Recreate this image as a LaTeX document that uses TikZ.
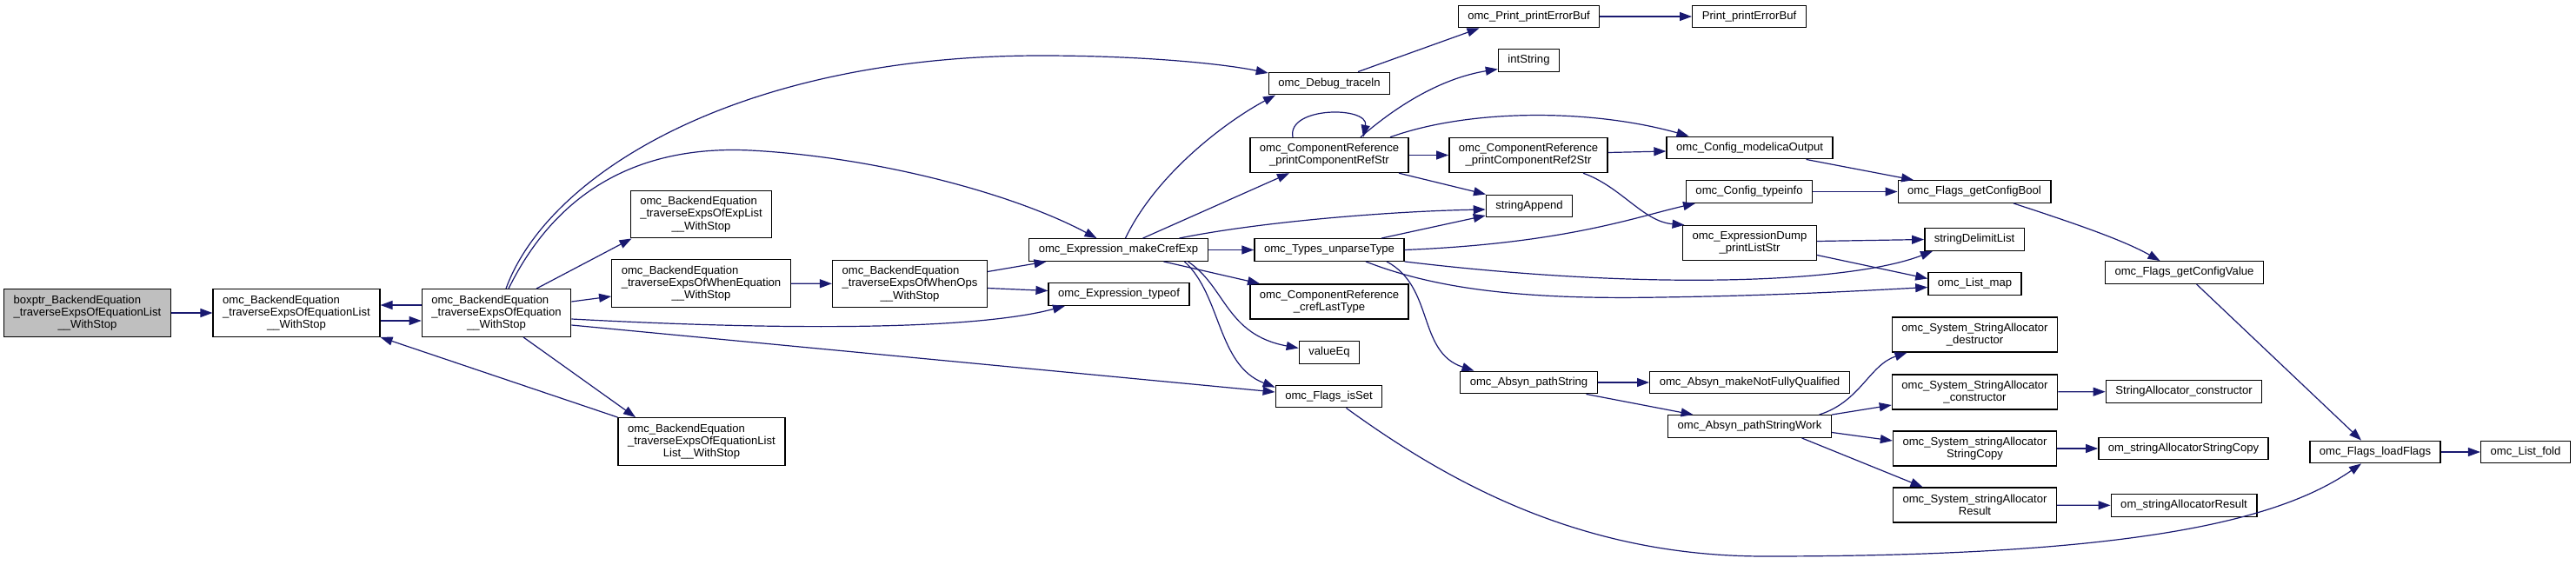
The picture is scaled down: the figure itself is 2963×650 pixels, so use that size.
\documentclass[tikz,border=0pt]{standalone}
\usepackage{fontspec}
\setmainfont{Liberation Sans}
\usepackage{xcolor}
\usepackage{tikz}
\usetikzlibrary{arrows.meta,calc}
\definecolor{edgeblue}{HTML}{191970}
\newcommand{\ctr}[1]{\null\hfill#1\hfill\null}

\begin{document}
\begin{tikzpicture}[x=1pt, y=-1pt,
  n/.style={draw=black, line width=1.4pt, fill=white, align=left, inner xsep=11pt, inner ysep=0pt,
    minimum height=25.5pt, font=\fontsize{13.1}{14.2}\selectfont},
  two/.style={n, minimum height=40pt},
  three/.style={n, minimum height=54.5pt},
  root/.style={three, fill=black!25},
  ar/.style={-{Triangle[length=14pt,width=10pt]}, line width=1.2pt, draw=edgeblue}
]
\useasboundingbox (0,0) rectangle (2963,650);
\node[root] (root) at (100.5,360) {boxptr\_BackendEquation\\\_traverseExpsOfEquationList\\\ctr{\_\_WithStop}};
\node[three] (eqlist) at (341,360) {omc\_BackendEquation\\\_traverseExpsOfEquationList\\\ctr{\_\_WithStop}};
\node[three] (eqn) at (571,360) {omc\_BackendEquation\\\_traverseExpsOfEquation\\\ctr{\_\_WithStop}};
\node[three] (explist) at (806.5,246.5) {omc\_BackendEquation\\\_traverseExpsOfExpList\\\ctr{\_\_WithStop}};
\node[three] (wheneq) at (806.5,326) {omc\_BackendEquation\\\_traverseExpsOfWhenEquation\\\ctr{\_\_WithStop}};
\node[three] (eqll) at (807,508) {omc\_BackendEquation\\\_traverseExpsOfEquationList\\\ctr{List\_\_WithStop}};
\node[three] (whenops) at (1046.5,326.5) {omc\_BackendEquation\\\_traverseExpsOfWhenOps\\\ctr{\_\_WithStop}};
\node[n] (mkcref) at (1286.5,287.5) {omc\_Expression\_makeCrefExp};
\node[n] (typeof) at (1287,338.5) {omc\_Expression\_typeof};
\node[n] (trace) at (1529,96) {omc\_Debug\_traceln};
\node[two] (prstr) at (1529,178.5) {omc\_ComponentReference\\\ctr{\_printComponentRefStr}};
\node[n] (unparse) at (1529,287.5) {omc\_Types\_unparseType};
\node[two] (creflast) at (1529,347) {omc\_ComponentReference\\\ctr{\_crefLastType}};
\node[n] (valeq) at (1529,405.5) {valueEq};
\node[n] (isset) at (1528.5,456) {omc\_Flags\_isSet};
\node[n] (perrbuf) at (1758.5,19) {omc\_Print\_printErrorBuf};
\node[n] (intstr) at (1758.5,69.5) {intString};
\node[two] (prstr2) at (1758,178.5) {omc\_ComponentReference\\\ctr{\_printComponentRef2Str}};
\node[n] (strapp) at (1759,237) {stringAppend};
\node[n] (pathstr) at (1758.5,440) {omc\_Absyn\_pathString};
\node[n] (perrbuf2) at (2012,19) {Print\_printErrorBuf};
\node[n] (modout) at (2012.5,170) {omc\_Config\_modelicaOutput};
\node[n] (typeinfo) at (2012,220.5) {omc\_Config\_typeinfo};
\node[two] (lststr) at (2012.5,279.5) {omc\_ExpressionDump\\\ctr{\_printListStr}};
\node[n] (notfq) at (2012.5,440) {omc\_Absyn\_makeNotFullyQualified};
\node[n] (pathwork) at (2012.5,490.5) {omc\_Absyn\_pathStringWork};
\node[n] (getbool) at (2271,220.5) {omc\_Flags\_getConfigBool};
\node[n] (delim) at (2271,275.5) {stringDelimitList};
\node[n] (lmap) at (2271.5,326.5) {omc\_List\_map};
\node[two] (sadestr) at (2271.5,385) {omc\_System\_StringAllocator\\\ctr{\_destructor}};
\node[two] (sacons) at (2271.5,451) {omc\_System\_StringAllocator\\\ctr{\_constructor}};
\node[two] (sacopy) at (2271.5,516) {omc\_System\_stringAllocator\\\ctr{StringCopy}};
\node[two] (sares) at (2271.5,581) {omc\_System\_stringAllocator\\\ctr{Result}};
\node[n] (getval) at (2512.5,313.5) {omc\_Flags\_getConfigValue};
\node[n] (sacons2) at (2512,450.5) {StringAllocator\_constructor};
\node[n] (omcopy) at (2511.5,516) {om\_stringAllocatorStringCopy};
\node[n] (omres) at (2512,581.5) {om\_stringAllocatorResult};
\node[n] (loadfl) at (2732,520) {omc\_Flags\_loadFlags};
\node[n] (lfold) at (2905,520) {omc\_List\_fold};

\draw[ar] (root) -- (eqlist);
\draw[ar] ([yshift=9pt]eqn.west) -- ([yshift=9pt]eqlist.east);
\draw[ar] ([yshift=-9pt]eqlist.east) -- ([yshift=-9pt]eqn.west);
\draw[ar] ([xshift=46pt]eqn.north) -- ([xshift=-80pt]explist.south);
\draw[ar] ([yshift=13pt]eqn.east) -- ([yshift=-15pt]wheneq.west);
\draw[ar] ([xshift=31pt]eqn.south) -- ([xshift=-76pt]eqll.north);
\draw[ar] (eqll.north west) -- (eqlist.south east);
\draw[ar] ([xshift=11pt]eqn.north) .. controls (630,200) and (850,64) .. (1197,64) .. controls (1320,64) and (1410,74) .. ([yshift=12pt]trace.west);
\draw[ar] ([xshift=14pt]eqn.north) .. controls (650,200) and (760,168) .. (863,173) .. controls (1000,180) and (1160,220) .. ([xshift=-25pt]mkcref.north);
\draw[ar] ([yshift=-7pt]eqn.east) .. controls (900,380) and (1120,380) .. ([xshift=-62pt]typeof.south);
\draw[ar] ([yshift=-14pt]eqn.east) -- ([yshift=5pt]isset.west);
\draw[ar] (wheneq) -- (whenops);
\draw[ar] ([yshift=14pt]whenops.east) -- ([xshift=-83pt]mkcref.south);
\draw[ar] ([yshift=-5pt]whenops.east) -- ([yshift=4pt]typeof.west);
\draw[ar] ([xshift=8pt]mkcref.north) .. controls (1330,200) and (1410,140) .. ([xshift=-62pt]trace.south);
\draw[ar] ([xshift=28pt]mkcref.north) -- ([xshift=-46pt]prstr.south);
\draw[ar] ([xshift=70pt]mkcref.north) .. controls (1450,255) and (1600,243) .. ([yshift=-4pt]strapp.west);
\draw[ar] (mkcref) -- (unparse);
\draw[ar] ([xshift=52pt]mkcref.south) -- ([xshift=-80pt]creflast.north);
\draw[ar] ([xshift=80pt]mkcref.south) .. controls (1410,330) and (1410,385) .. ([yshift=5pt]valeq.west);
\draw[ar] ([xshift=76pt]mkcref.south) .. controls (1405,340) and (1400,420) .. ([yshift=-3pt]isset.north west);
\draw[ar] ([xshift=33pt]trace.north) -- ([xshift=-57pt]perrbuf.south);
\draw[ar] (perrbuf) -- (perrbuf2);
\draw[ar] ([xshift=-42pt]prstr.north) .. controls (1480,122) and (1575,122) .. ([xshift=39pt]prstr.north);
\draw[ar] ([xshift=36pt]prstr.north) .. controls (1620,110) and (1670,88) .. ([yshift=-10pt]intstr.west);
\draw[ar] ([xshift=70pt]prstr.north) .. controls (1690,125) and (1830,125) .. ([xshift=-70pt]modout.north);
\draw[ar] (prstr) -- (prstr2);
\draw[ar] ([xshift=80pt]prstr.south) -- ([xshift=-50pt]strapp.north);
\draw[ar] ([yshift=3pt]prstr2.east) -- ([yshift=-4pt]modout.west);
\draw[ar] ([xshift=63pt]prstr2.south) .. controls (1865,215) and (1890,255) .. ([xshift=-75pt]lststr.north);
\draw[ar] ([xshift=65pt]modout.south) -- ([xshift=-70pt]getbool.north);
\draw[ar] (typeinfo) -- (getbool);
\draw[ar] ([xshift=60pt]unparse.north) -- ([yshift=-11pt]strapp.west);
\draw[ar] (unparse.east) .. controls (1800,280) and (1880,250) .. ([xshift=-62pt]typeinfo.south);
\draw[ar] (unparse.south east) .. controls (1900,335) and (2130,325) .. ([xshift=-48pt]delim.south);
\draw[ar] ([xshift=42pt]unparse.south) .. controls (1650,332) and (1750,345) .. (1910,342) .. controls (2050,340) and (2150,334) .. ([yshift=-4pt]lmap.west);
\draw[ar] ([yshift=2pt]lststr.east) -- (delim.west);
\draw[ar] ([yshift=-14pt]lststr.east) -- ([yshift=6pt]lmap.west);
\draw[ar] ([xshift=66pt]unparse.south) .. controls (1650,330) and (1630,405) .. ([xshift=-63pt]pathstr.north);
\draw[ar] (pathstr) -- (notfq);
\draw[ar] ([xshift=66pt]pathstr.south) -- ([xshift=-65pt]pathwork.north);
\draw[ar] ([xshift=80pt]pathwork.north) .. controls (2140,462) and (2150,420) .. ([xshift=-78pt]sadestr.south);
\draw[ar] (pathwork.north east) -- ([yshift=-15pt]sacons.west);
\draw[ar] ([yshift=-7pt]pathwork.east) -- ([yshift=9pt]sacopy.west);
\draw[ar] ([xshift=60pt]pathwork.south) -- ([xshift=-60pt]sares.north);
\draw[ar] (sacons) -- (sacons2);
\draw[ar] (sacopy) -- (omcopy);
\draw[ar] (sares) -- (omres);
\draw[ar] ([xshift=45pt]getbool.south) .. controls (2380,255) and (2440,275) .. ([xshift=-28pt]getval.north);
\draw[ar] ([xshift=14pt]getval.south) -- ([xshift=-16pt]loadfl.north);
\draw[ar] ([xshift=20pt]isset.south) .. controls (1680,565) and (1830,640) .. (2030,640) .. controls (2450,640) and (2620,600) .. ([xshift=-16pt]loadfl.south);
\draw[ar] (loadfl) -- (lfold);
\end{tikzpicture}
\end{document}
